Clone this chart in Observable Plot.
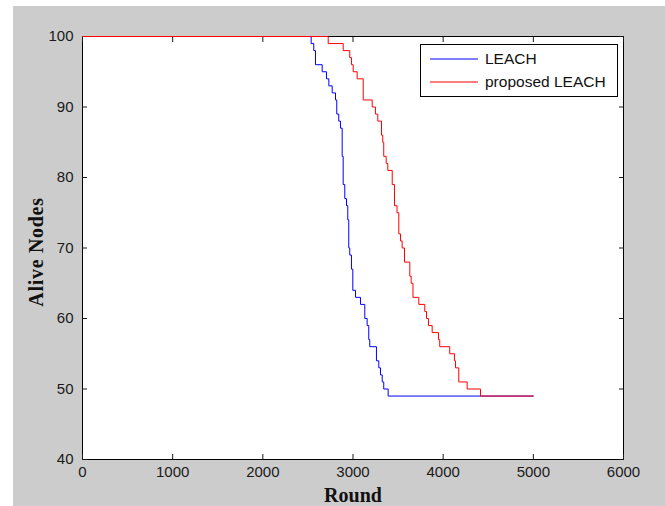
<!DOCTYPE html>
<html><head><meta charset="utf-8">
<script src="https://cdn.jsdelivr.net/npm/d3@7"></script>
<script src="https://cdn.jsdelivr.net/npm/@observablehq/plot@0.6"></script>
<style>
html,body{margin:0;padding:0;background:#fff;}
#wrap{position:relative;width:665px;height:506px;overflow:hidden;background:#fff;}
#bg{position:absolute;left:13px;top:6px;right:0;bottom:0;background:#cccccc;}
#chart{position:absolute;left:0;top:0;}
#legend{position:absolute;left:420px;top:44px;width:198px;height:53px;background:#fff;border:1px solid #000;box-sizing:border-box;font:15.5px "Liberation Sans",Arial,sans-serif;color:#111;}
.row{position:absolute;left:9px;height:20px;display:flex;align-items:center;}
.row svg{margin-right:7px;}
</style></head>
<body>
<div id="wrap"><div id="bg"></div><div id="chart"></div><div id="legend"></div></div>
<script>
const xTicks = [0, 1000, 2000, 3000, 4000, 5000, 6000];
const yTicks = [40, 50, 60, 70, 80, 90, 100];
const seriesNames = ["LEACH", "proposed LEACH"];
const seriesColors = ["#0000ff", "#ff0000"];

const leachRounds = [0, 2536, 2565, 2584, 2658, 2706, 2732, 2769, 2806, 2820, 2842, 2861, 2880, 2891, 2909, 2928, 2942, 2953, 2964, 2983, 2998, 3028, 3083, 3131, 3157, 3175, 3186, 3260, 3286, 3305, 3324, 3341, 3390, 5000];
const leachAlive  = [100, 99, 98, 96, 95, 94, 93, 92, 91, 89, 88, 87, 83, 79, 77, 76, 74, 70, 69, 67, 64, 63, 62, 60, 59, 57, 56, 54, 53, 52, 51, 50, 49, 49];

const propRounds = [0, 2725, 2891, 2964, 2983, 3002, 3046, 3113, 3213, 3249, 3275, 3316, 3330, 3341, 3368, 3386, 3435, 3460, 3488, 3508, 3527, 3545, 3571, 3630, 3645, 3665, 3730, 3796, 3815, 3837, 3878, 3948, 3962, 4073, 4125, 4137, 4173, 4266, 4414, 5000];
const propAlive  = [100, 99, 98, 97, 96, 95, 94, 91, 90, 89, 88, 86, 85, 83, 82, 81, 79, 76, 75, 72, 71, 70, 68, 66, 65, 63, 62, 61, 60, 59, 58, 57, 56, 55, 54, 53, 51, 50, 49, 49];

const leach = leachRounds.map((r, i) => ({round: r, alive: leachAlive[i]}));
const prop = propRounds.map((r, i) => ({round: r, alive: propAlive[i]}));

const serif = "'Liberation Serif', 'Times New Roman', serif";
const chart = Plot.plot({
  width: 665, height: 506,
  marginLeft: 82, marginRight: 42, marginTop: 36, marginBottom: 47,
  style: {background: "transparent", fontFamily: "'Liberation Sans', Arial, sans-serif", fontSize: "15px", color: "#1a1a1a", overflow: "visible"},
  x: {domain: [0, 6000]},
  y: {domain: [40, 100]},
  marks: [
    Plot.frame({fill: "white", stroke: "black"}),
    Plot.axisX(xTicks, {anchor: "bottom", tickSize: -5, tickPadding: 12, tickFormat: d => String(d), label: null, fontSize: 15}),
    Plot.axisX(xTicks, {anchor: "top", tickSize: -5, tickFormat: () => "", label: null}),
    Plot.axisY(yTicks, {anchor: "left", tickSize: -5, tickPadding: 14, tickFormat: d => String(d), label: null, fontSize: 15}),
    Plot.axisY(yTicks, {anchor: "right", tickSize: -5, tickFormat: () => "", label: null}),
    Plot.line(leach, {x: "round", y: "alive", stroke: seriesColors[0], strokeWidth: 1, curve: "step-after"}),
    Plot.line(prop, {x: "round", y: "alive", stroke: seriesColors[1], strokeWidth: 1, curve: "step-after"}),
    Plot.text(["Round"], {frameAnchor: "bottom", textAnchor: "middle", dy: 42, fontFamily: serif, fontWeight: "bold", fontSize: 20, fill: "#111"}),
    Plot.text(["Alive Nodes"], {frameAnchor: "left", textAnchor: "middle", dx: -46, dy: 4, rotate: -90, fontFamily: serif, fontWeight: "bold", fontSize: 20, fill: "#111", className: "ylab"})
  ]
});
document.getElementById("chart").appendChild(chart);
d3.select(chart).selectAll(".ylab text").style("letter-spacing", "0.7px");

const legend = document.getElementById("legend");
seriesNames.forEach((name, i) => {
  const row = document.createElement("div");
  row.className = "row";
  row.style.top = (i === 0 ? 4 : 27) + "px";
  row.innerHTML = `<svg width="48" height="4"><line x1="0" x2="48" y1="2" y2="2" stroke="${seriesColors[i]}" stroke-width="1"/></svg><span>${name}</span>`;
  legend.appendChild(row);
});
</script>
</body></html>
